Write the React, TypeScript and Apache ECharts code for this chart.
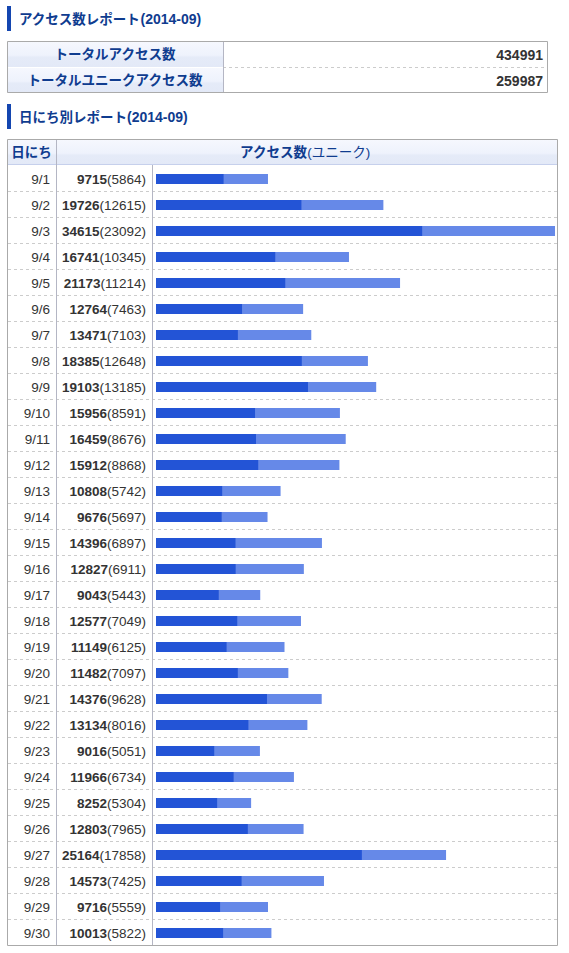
import React, { useEffect, useRef } from 'react'
import * as echarts from 'echarts'

const reportMonth = '2014-09'
const summaryLabels = ['トータルアクセス数', 'トータルユニークアクセス数']
const summaryValues = [434991, 259987]

const days = [
  '9/1', '9/2', '9/3', '9/4', '9/5', '9/6', '9/7', '9/8', '9/9', '9/10',
  '9/11', '9/12', '9/13', '9/14', '9/15', '9/16', '9/17', '9/18', '9/19', '9/20',
  '9/21', '9/22', '9/23', '9/24', '9/25', '9/26', '9/27', '9/28', '9/29', '9/30'
]
const totals = [
  9715, 19726, 34615, 16741, 21173, 12764, 13471, 18385, 19103, 15956,
  16459, 15912, 10808, 9676, 14396, 12827, 9043, 12577, 11149, 11482,
  14376, 13134, 9016, 11966, 8252, 12803, 25164, 14573, 9716, 10013
]
const uniques = [
  5864, 12615, 23092, 10345, 11214, 7463, 7103, 12648, 13185, 8591,
  8676, 8868, 5742, 5697, 6897, 6911, 5443, 7049, 6125, 7097,
  9628, 8016, 5051, 6734, 5304, 7965, 17858, 7425, 5559, 5822
]

const FONT = "'Liberation Sans', Arial, 'Noto Sans CJK JP', sans-serif"
const HEAD_BLUE = '#0f3c8f'
const TEXT = '#333333'
const ROW_H = 26

const headFill = () =>
  new echarts.graphic.LinearGradient(0, 0, 0, 1, [
    { offset: 0, color: '#f6f8fe' },
    { offset: 0.55, color: '#eef2fc' },
    { offset: 0.62, color: '#e5ebf8' },
    { offset: 1, color: '#e3e9f7' }
  ])

const titleText = (x: number, y: number, label: string) => ({
  type: 'text',
  x,
  y,
  style: {
    text: `{a|${label}}{b|(${reportMonth})}`,
    verticalAlign: 'middle',
    rich: {
      a: { fontFamily: FONT, fontSize: 13.5, fontWeight: 'bold', fill: HEAD_BLUE, color: HEAD_BLUE },
      b: { fontFamily: FONT, fontSize: 14, fontWeight: 'bold', fill: HEAD_BLUE, color: HEAD_BLUE }
    }
  }
})

const App: React.FC = () => {
  const chartRef = useRef<HTMLDivElement>(null)

  useEffect(() => {
    if (!chartRef.current) return
    const chart = echarts.init(chartRef.current, undefined, { renderer: 'svg' })

    const tableTop = 139
    const bodyTop = tableTop + ROW_H
    const tableBottom = bodyTop + days.length * ROW_H

    const graphics: any[] = []

    // section 1 title
    graphics.push({ type: 'rect', shape: { x: 7, y: 6, width: 4, height: 25 }, style: { fill: '#1446b0' } })
    graphics.push(titleText(19, 19, 'アクセス数レポート'))

    // summary table
    summaryLabels.forEach((label, i) => {
      const y = 41 + i * ROW_H
      graphics.push({ type: 'rect', shape: { x: 7, y, width: 216, height: ROW_H }, style: { fill: headFill() } })
      graphics.push({
        type: 'text', x: 115, y: y + 13,
        style: { text: label, fontFamily: FONT, fontSize: 13.5, fontWeight: 'bold', fill: HEAD_BLUE, align: 'center', verticalAlign: 'middle' }
      })
      graphics.push({
        type: 'text', x: 543, y: y + 14,
        style: { text: String(summaryValues[i]), fontFamily: FONT, fontSize: 14, fontWeight: 'bold', fill: TEXT, align: 'right', verticalAlign: 'middle' }
      })
    })
    graphics.push({ type: 'line', shape: { x1: 7, y1: 67.5, x2: 223, y2: 67.5 }, style: { stroke: '#ffffff', lineWidth: 1 } })
    graphics.push({ type: 'line', shape: { x1: 223, y1: 67.5, x2: 548, y2: 67.5 }, style: { stroke: '#cccccc', lineWidth: 1, lineDash: [3, 3] } })
    graphics.push({ type: 'line', shape: { x1: 223.5, y1: 41, x2: 223.5, y2: 93 }, style: { stroke: '#b4b6c4', lineWidth: 1 } })
    graphics.push({ type: 'rect', shape: { x: 7.5, y: 41.5, width: 540, height: 51 }, style: { fill: 'none', stroke: '#aaaaaa', lineWidth: 1 } })

    // section 2 title
    graphics.push({ type: 'rect', shape: { x: 7, y: 104, width: 4, height: 25 }, style: { fill: '#1446b0' } })
    graphics.push(titleText(19, 117, '日にち別レポート'))

    // daily table frame
    graphics.push({ type: 'rect', shape: { x: 7, y: tableTop, width: 551, height: ROW_H }, style: { fill: headFill() } })
    graphics.push({ type: 'line', shape: { x1: 7, y1: bodyTop - 0.5, x2: 558, y2: bodyTop - 0.5 }, style: { stroke: '#c6d0ec', lineWidth: 1 } })
    days.slice(1).forEach((_, i) => {
      const y = bodyTop + (i + 1) * ROW_H + 0.5
      graphics.push({ type: 'line', shape: { x1: 8, y1: y, x2: 558, y2: y }, style: { stroke: '#cccccc', lineWidth: 1, lineDash: [3, 3] } })
    })
    graphics.push({ type: 'line', shape: { x1: 56.5, y1: tableTop, x2: 56.5, y2: tableBottom }, style: { stroke: '#b4b6c4', lineWidth: 1 } })
    graphics.push({ type: 'line', shape: { x1: 152.5, y1: bodyTop, x2: 152.5, y2: tableBottom }, style: { stroke: '#b4b6c4', lineWidth: 1 } })
    graphics.push({ type: 'rect', shape: { x: 7.5, y: tableTop + 0.5, width: 550, height: tableBottom - tableTop }, style: { fill: 'none', stroke: '#aaaaaa', lineWidth: 1 } })
    graphics.push({
      type: 'text', x: 31.5, y: tableTop + 13,
      style: { text: '日にち', fontFamily: FONT, fontSize: 13.5, fontWeight: 'bold', fill: HEAD_BLUE, align: 'center', verticalAlign: 'middle' }
    })
    graphics.push({
      type: 'text', x: 305, y: tableTop + 13,
      style: {
        text: '{a|アクセス数}{b|(ユニーク)}',
        align: 'center',
        verticalAlign: 'middle',
        rich: {
          a: { fontFamily: FONT, fontSize: 13.5, fontWeight: 'bold', fill: HEAD_BLUE, color: HEAD_BLUE },
          b: { fontFamily: FONT, fontSize: 13.5, fontWeight: 'normal', fill: HEAD_BLUE, color: HEAD_BLUE }
        }
      }
    })

    const option: echarts.EChartsOption = {
      animation: false,
      backgroundColor: '#ffffff',
      grid: { left: 156, top: bodyTop + 1, width: 399, height: days.length * ROW_H },
      xAxis: { type: 'value', min: 0, max: Math.max(...totals), show: false },
      yAxis: [
        {
          type: 'category',
          data: days,
          inverse: true,
          axisLine: { show: false },
          axisTick: { show: false },
          splitLine: { show: false },
          axisLabel: {
            margin: 10,
            formatter: (_v: string, i: number) => `{t|${totals[i]}}{u|(${uniques[i]})}`,
            rich: {
              t: { fontFamily: FONT, fontSize: 13.5, fontWeight: 'bold', color: TEXT },
              u: { fontFamily: FONT, fontSize: 13.5, fontWeight: 'normal', color: TEXT }
            }
          }
        },
        {
          type: 'category',
          data: days,
          inverse: true,
          position: 'left',
          offset: 100,
          axisLine: { show: false },
          axisTick: { show: false },
          splitLine: { show: false },
          axisLabel: { margin: 6, fontFamily: FONT, fontSize: 13.5, color: TEXT }
        }
      ],
      series: [
        {
          type: 'bar',
          name: 'アクセス数',
          data: totals,
          barWidth: 10,
          itemStyle: { color: '#6689e8' },
          silent: true
        },
        {
          type: 'bar',
          name: 'ユニーク',
          data: uniques,
          barWidth: 10,
          barGap: '-100%',
          itemStyle: { color: '#2354d6' },
          silent: true
        }
      ],
      graphic: { elements: graphics }
    }

    chart.setOption(option)
    return () => {
      chart.dispose()
    }
  }, [])

  return <div ref={chartRef} style={{ position: 'absolute', left: 0, top: 0, width: 569, height: 953 }} />
}

export default App
